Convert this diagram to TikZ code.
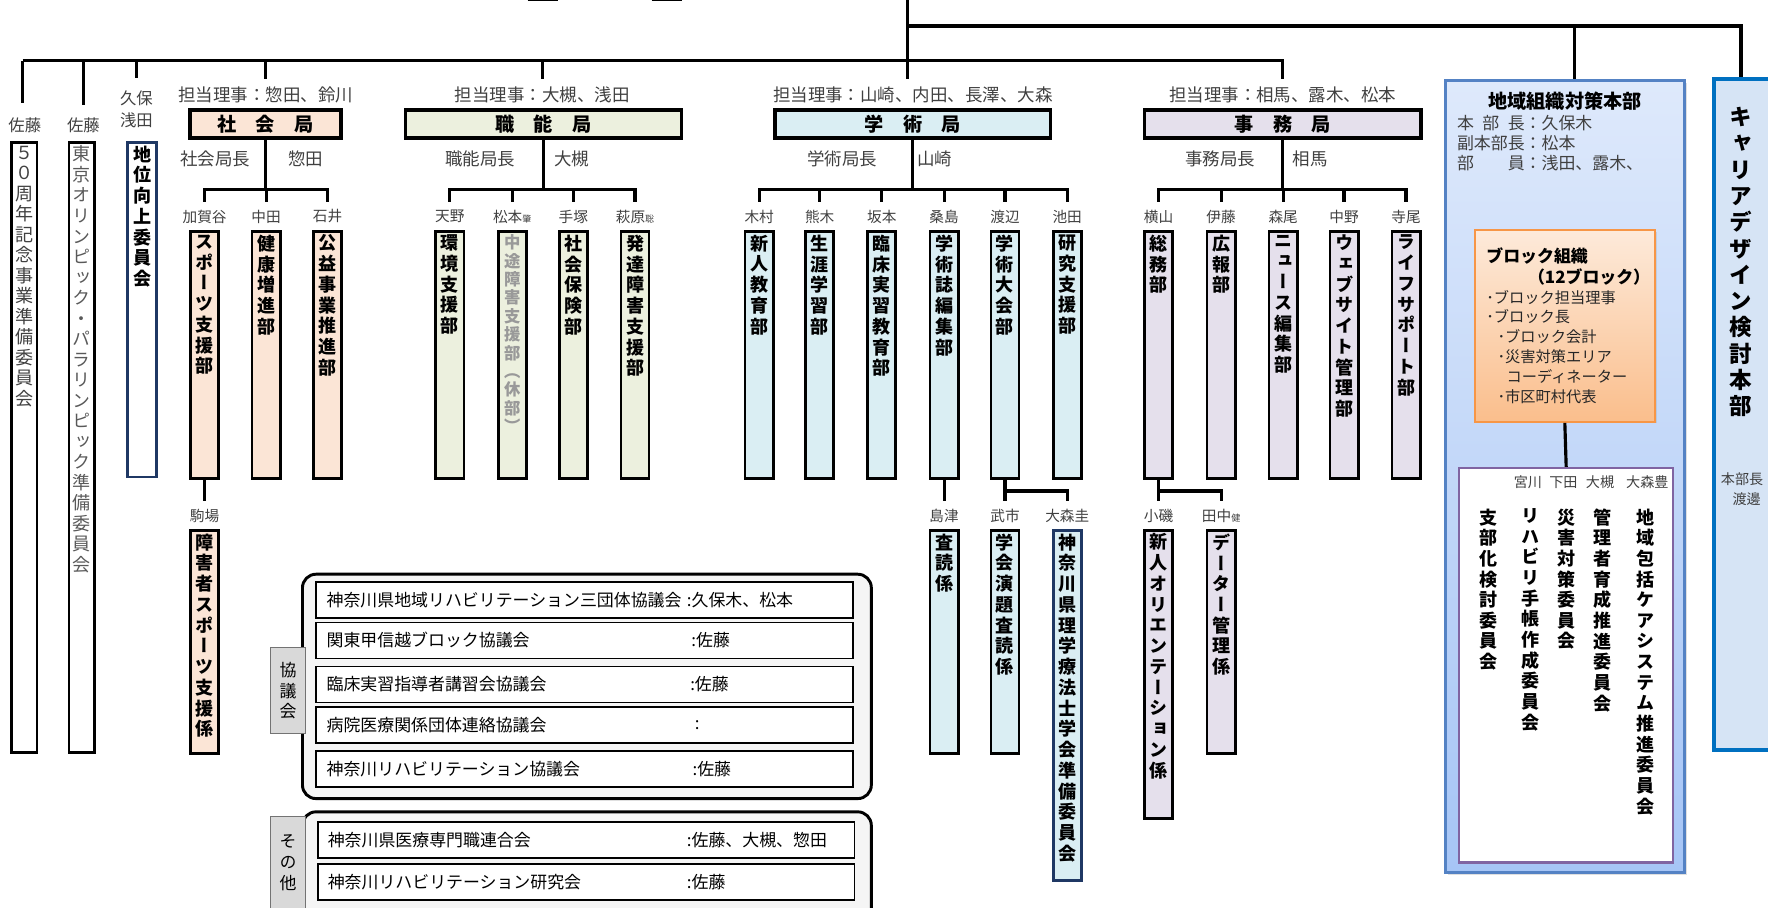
\documentclass[tikz,border=0pt]{standalone}
\usepackage{fontspec}
\setmainfont{Noto Sans CJK JP}
\newfontfamily\tatefont{Noto Sans CJK JP}[RawFeature=+vert]
\usetikzlibrary{positioning,shadows}

\definecolor{shakaiC}{RGB}{251,229,214}
\definecolor{shokunoC}{RGB}{236,240,222}
\definecolor{gakuC}{RGB}{218,238,243}
\definecolor{jimuC}{RGB}{229,224,236}
\definecolor{navyC}{RGB}{31,56,100}
\definecolor{txtC}{RGB}{64,64,64}
\definecolor{chiikiTop}{RGB}{222,233,251}
\definecolor{chiikiBot}{RGB}{166,197,246}
\definecolor{chiikiLine}{RGB}{84,130,196}
\definecolor{blockTop}{RGB}{253,234,218}
\definecolor{blockBot}{RGB}{250,190,140}
\definecolor{blockLine}{RGB}{247,150,70}
\definecolor{purpleC}{RGB}{128,100,162}
\definecolor{careerC}{RGB}{214,228,245}
\definecolor{careerLine}{RGB}{0,112,192}
\definecolor{labgray}{RGB}{217,217,217}

% stack the characters of a word one under the other
\makeatletter
\newcommand\vtxt[1]{\expandafter\vtxt@a#1\vtxt@end}
\def\vtxt@a#1{#1\vtxt@b}
\def\vtxt@b#1{\ifx#1\vtxt@end\else\\#1\expandafter\vtxt@b\fi}
\makeatother
\newcommand\smallname[1]{{\fontsize{8}{8}\selectfont #1}}

\begin{document}
\begin{tikzpicture}[x=1pt, y=-1pt,
	conn/.style={line width=2.8pt},
	hdr/.style={draw, line width=3.2pt, minimum height=25pt, inner sep=0pt, font=\bfseries\fontsize{17}{17}\selectfont},
	dept/.style={draw, line width=2.4pt, minimum width=25pt, anchor=north, inner sep=0pt},
	vlab/.style={anchor=north, align=center, inner sep=0pt, font=\tatefont\bfseries\fontsize{16}{18.4}\selectfont},
	vthin/.style={vlab, text=txtC, font=\tatefont\fontsize{16}{18.2}\selectfont},
	vgray/.style={vlab, text=black!40, font=\tatefont\bfseries\fontsize{14.5}{16.3}\selectfont},
	rep/.style={text=txtC, inner sep=1pt, outer ysep=6pt, font=\fontsize{15.5}{17}\selectfont},
	chief/.style={text=txtC, inner sep=1pt, font=\fontsize{15.5}{17}\selectfont},
	who/.style={text=txtC, inner sep=1pt, outer ysep=6pt, font=\fontsize{13}{15}\selectfont},
	grp/.style={draw, line width=2.6pt, rounded corners=12pt, fill=black!4},
	glab/.style={draw=black!55, line width=1pt, fill=labgray, minimum width=31pt, inner sep=0pt, align=center, font=\tatefont\fontsize{15}{18.5}\selectfont},
	row/.style={draw, line width=1.4pt, fill=white, minimum width=476pt, minimum height=32pt, anchor=west},
	rowtxt/.style={anchor=west, inner sep=0pt, font=\fontsize{15}{16}\selectfont}
]
	\useasboundingbox (0,0) rectangle (1568,805);

	% cut-off boxes at the top edge
	\draw[line width=1.3pt] (468,0.6) -- (495,0.6);
	\draw[line width=1.3pt] (578,0.6) -- (605,0.6);

	\coordinate (top) at (805,0);
	\coordinate (barL) at (20,54);
	\coordinate (barT) at (1544,23);
	\coordinate (chiiki-top) at (1396,23);

	% bureaus
	\node[rep] (shakai-rep) at (235.7,84) {担当理事：惣田、鈴川};
	\node[rep] (shokuno-rep) at (481,84) {担当理事：大槻、浅田};
	\node[rep] (gaku-rep) at (809.6,84) {担当理事：山崎、内田、長澤、大森};
	\node[rep] (jimu-rep) at (1137.6,84) {担当理事：相馬、露木、松本};

	\node[hdr, fill=shakaiC, minimum width=134pt] (shakai) at (235.5,110) {社　会　局};
	\node[hdr, fill=shokunoC, minimum width=245pt] (shokuno) at (482,110) {職　能　局};
	\node[hdr, fill=gakuC, minimum width=244pt] (gaku) at (809.5,110) {学　術　局};
	\node[hdr, fill=jimuC, minimum width=245pt] (jimu) at (1137.5,110) {事　務　局};

	\node[chief] (shakai-chief) at (191,141) {社会局長};
	\node[chief] (shakai-name) at (271,141) {惣田};
	\node[chief] (shokuno-chief) at (426,141) {職能局長};
	\node[chief] (shokuno-name) at (507,141) {大槻};
	\node[chief] (gaku-chief) at (747,141) {学術局長};
	\node[chief] (gaku-name) at (829,141) {山崎};
	\node[chief] (jimu-chief) at (1082,141) {事務局長};
	\node[chief] (jimu-name) at (1162,141) {相馬};

	\coordinate (shakai-j) at (shakai.south |- 0,168);
	\coordinate (shokuno-j) at (shokuno.south |- 0,168);
	\coordinate (gaku-j) at (gaku.south |- 0,168);
	\coordinate (jimu-j) at (jimu.south |- 0,168);
	\draw[conn] (shakai.south) -- (shakai-j);
	\draw[conn] (shokuno.south) -- (shokuno-j);
	\draw[conn] (gaku.south) -- (gaku-j);
	\draw[conn] (jimu.south) -- (jimu-j);

	% departments
	\foreach \nm/\x/\who/\txt in {sports/181.5/加賀谷/スポーツ支援部, kenko/236/中田/健康増進部, koeki/290.5/石井/公益事業推進部}{
		\node[who] (\nm-who) at (\x,192) {\who};
		\node[dept, fill=shakaiC, minimum height=218.8pt] (\nm) at (\x,204.1) {};
		\node[vlab] (\nm-txt) at ([yshift=-4pt]\nm.north) {\vtxt\txt};
		\draw[conn] (shakai-j) -| (\nm-who.north);
	}
	\foreach \nm/\x/\who/\txt/\tc in {kankyo/399/天野/環境支援部/vlab, chuto/454.3/松本\smallname{肇}/中途障害支援部（休部）/vgray, hoken/508.5/手塚/社会保険部/vlab, hattatsu/563.2/萩原\smallname{聡}/発達障害支援部/vlab}{
		\node[who] (\nm-who) at (\x,192) {\who};
		\node[dept, fill=shokunoC, minimum height=218.8pt] (\nm) at (\x,204.1) {};
		\node[\tc] (\nm-txt) at ([yshift=-4pt]\nm.north) {\vtxt\txt};
		\draw[conn] (shokuno-j) -| (\nm-who.north);
	}
	\foreach \nm/\x/\who/\txt in {shinjin/673.3/木村/新人教育部, shogai/727/熊木/生涯学習部, rinsho/782/坂本/臨床実習教育部, gakushi/837.3/桑島/学術誌編集部, taikai/891.3/渡辺/学術大会部, kenkyu/946.5/池田/研究支援部}{
		\node[who] (\nm-who) at (\x,192) {\who};
		\node[dept, fill=gakuC, minimum height=218.8pt] (\nm) at (\x,204.1) {};
		\node[vlab] (\nm-txt) at ([yshift=-4pt]\nm.north) {\vtxt\txt};
		\draw[conn] (gaku-j) -| (\nm-who.north);
	}
	\foreach \nm/\x/\who/\txt in {somu/1027.5/横山/総務部, koho/1083/伊藤/広報部, news/1138/森尾/ニュース編集部, web/1192/中野/ウェブサイト管理部, life/1247/寺尾/ライフサポート部}{
		\node[who] (\nm-who) at (\x,192) {\who};
		\node[dept, fill=jimuC, minimum height=218.8pt] (\nm) at (\x,204.1) {};
		\node[vlab] (\nm-txt) at ([yshift=-4pt]\nm.north) {\vtxt\txt};
		\draw[conn] (jimu-j) -| (\nm-who.north);
	}

	% sections under the departments
	\node[who] (komaba-who) at (181.5,457.6) {駒場};
	\node[dept, fill=shakaiC, minimum height=197.8pt] (komaba) at (181.5,469.1) {};
	\node[vlab] (komaba-txt) at ([yshift=-4pt]komaba.north) {\vtxt{障害者スポーツ支援係}};
	\draw[conn] (sports.south) -- (komaba-who.north);

	\node[who] (shimazu-who) at (837.3,457.6) {島津};
	\node[dept, fill=gakuC, minimum height=197.8pt] (shimazu) at (837.3,469.1) {};
	\node[vlab] (shimazu-txt) at ([yshift=-4pt]shimazu.north) {\vtxt{査読係}};
	\draw[conn] (gakushi.south) -- (shimazu-who.north);

	\node[who] (takeichi-who) at (891.3,457.6) {武市};
	\node[dept, fill=gakuC, minimum height=197.8pt] (takeichi) at (891.3,469.1) {};
	\node[vlab] (takeichi-txt) at ([yshift=-4pt]takeichi.north) {\vtxt{学会演題査読係}};
	\node[who] (omori-who) at (946.5,457.6) {大森圭};
	\node[dept, draw=navyC, fill=gakuC, minimum height=310.8pt] (omori) at (946.5,469.1) {};
	\node[vlab] (omori-txt) at ([yshift=-4pt]omori.north) {\vtxt{神奈川県理学療法士学会準備委員会}};
	\coordinate (taikai-j) at (taikai.south |- 0,435.5);
	\draw[conn] (taikai.south) -- (takeichi-who.north);
	\draw[conn] (taikai-j) -| (omori-who.north);

	\node[who] (koiso-who) at (1027.5,457.6) {小磯};
	\node[dept, fill=jimuC, minimum height=255.8pt] (koiso) at (1027.5,469.1) {};
	\node[vlab] (koiso-txt) at ([yshift=-4pt]koiso.north) {\vtxt{新人オリエンテーション係}};
	\node[who] (tanaka-who) at (1083,457.6) {田中\smallname{健}};
	\node[dept, fill=jimuC, minimum height=197.8pt] (tanaka) at (1083,469.1) {};
	\node[vlab] (tanaka-txt) at ([yshift=-4pt]tanaka.north) {\vtxt{データー管理係}};
	\coordinate (somu-j) at (somu.south |- 0,435.5);
	\draw[conn] (somu.south) -- (koiso-who.north);
	\draw[conn] (somu-j) -| (tanaka-who.north);

	% committees on the left
	\node[who, font=\fontsize{14.5}{16}\selectfont, outer ysep=12pt] (sato1) at (22,111) {佐藤};
	\node[who, font=\fontsize{14.5}{16}\selectfont, outer ysep=10pt] (sato2) at (74,111) {佐藤};
	\node[who, font=\fontsize{14.5}{20}\selectfont, align=center, outer ysep=10pt] (kubo) at (121,97) {久保\\浅田};
	\node[dept, minimum width=22.8pt, minimum height=541.3pt] (kinen) at (21.5,125.1) {};
	\node[vthin] (kinen-txt) at ([yshift=-4pt]kinen.north) {\vtxt{５０周年記念事業準備委員会}};
	\node[dept, minimum width=22.8pt, minimum height=541.3pt] (olympic) at (72.5,125.1) {};
	\node[vthin, text=black!65] (olympic-txt) at ([yshift=-4pt]olympic.north) {\vtxt{東京オリンピック・パラリンピック準備委員会}};
	\node[dept, draw=navyC, minimum width=25.8pt, minimum height=296.8pt] (chii) at (126,125.1) {};
	\node[vlab] (chii-txt) at ([yshift=-4pt]chii.north) {\vtxt{地位向上委員会}};

	% top lines
	\draw[conn] (top) -- (top |- gaku-rep.north);
	\draw[conn] (barL) -- (jimu-rep.north |- barL) -- (jimu-rep.north);
	\draw[conn] (barL) -- (barL |- sato1.north);
	\draw[conn] (sato2.north |- barL) -- (sato2.north);
	\draw[conn] (kubo.north |- barL) -- (kubo.north);
	\draw[conn] (shakai-rep.north |- barL) -- (shakai-rep.north);
	\draw[conn] (shokuno-rep.north |- barL) -- (shokuno-rep.north);

	% regional headquarters
	\node[draw=chiikiLine, line width=2.5pt, top color=chiikiTop, bottom color=chiikiBot, minimum width=211.5pt, minimum height=702.5pt, drop shadow={opacity=0.25, shadow xshift=2pt, shadow yshift=-2pt}] (chiiki) at (1388,422.5) {};
	\node[font=\bfseries\fontsize{17}{17}\selectfont] (chiiki-title) at (1388,90) {地域組織対策本部};
	\node[anchor=west, align=left, text=txtC, inner sep=0pt, font=\fontsize{15}{18}\selectfont] (chiiki-mem) at (1292,127) {本\hspace{.5em}部\hspace{.5em}長：久保木\\副本部長：松本\\部\hspace{2em}員：浅田、露木、};

	\node[draw=blockLine, line width=2pt, top color=blockTop, bottom color=blockBot, minimum width=159.6pt, minimum height=170pt, drop shadow={opacity=0.2, shadow xshift=1.5pt, shadow yshift=-1.5pt}] (block) at (1387.8,289) {};
	\node[anchor=west, inner sep=0pt, font=\bfseries\fontsize{15}{15}\selectfont] (block-title) at (1318,227) {ブロック組織};
	\node[anchor=west, inner sep=0pt, font=\bfseries\fontsize{15}{15}\selectfont] (block-count) at (1355,245.5) {（12ブロック）};
	\node[anchor=north west, align=left, inner sep=0pt, text=black!85, font=\fontsize{13.5}{17.6}\selectfont] (block-list) at (1318,257) {･ブロック担当理事\\･ブロック長\\\hspace*{10pt}･ブロック会計\\\hspace*{10pt}･災害対策エリア\\\hspace*{18pt}コーディネーター\\\hspace*{10pt}･市区町村代表};

	\node[draw=purpleC, line width=2.2pt, fill=white, minimum width=189.8pt, minimum height=349.8pt] (iinkai) at (1389,590) {};
	\draw[conn] (block.south) -- (iinkai.north);
	\foreach \nm/\x/\who in {miyakawa/1355/宮川, shimoda/1386.5/下田, otsuki/1419/大槻, omorit/1461/大森豊}{
		\node[who, font=\fontsize{12.5}{14}\selectfont] (\nm) at (\x,428) {\who};
	}
	\foreach \nm/\x/\txt in {chiikihokatsu/1459/地域包括ケアシステム推進委員会, kanrisha/1421/管理者育成推進委員会, saigai/1389/災害対策委員会, techo/1357.5/リハビリ手帳作成委員会, shibu/1320/支部化検討委員会}{
		\node[vlab, font=\tatefont\bfseries\fontsize{16}{18.3}\selectfont] (\nm) at (\x,451) {\vtxt\txt};
	}
	\draw[conn] (chiiki-top) -- (chiiki-top |- chiiki.north);

	% career design headquarters
	\node[draw=careerLine, line width=3.5pt, fill=careerC, minimum width=60pt, minimum height=595.5pt] (career) at (1549.75,367.5) {};
	\node[vlab, font=\tatefont\bfseries\fontsize{20}{23.3}\selectfont] (career-txt) at (1544,95) {\vtxt{キャリアデザイン検討本部}};
	\node[who, font=\fontsize{12.5}{14}\selectfont] (career-chief) at (1545,425) {本部長};
	\node[who, font=\fontsize{12.5}{14}\selectfont] (career-name) at (1549,443) {渡邊};
	\draw[conn] (top |- barT) -- (barT) -- (barT |- career.north);

	% councils
	\node[grp, minimum width=504.5pt, minimum height=199pt] (kyogi) at (520.5,608.75) {};
	\node[grp, minimum width=504.5pt, minimum height=100pt] (sonota) at (520.5,770) {};
	\node[glab, minimum height=76pt] (kyogi-lab) at (255.5,612.5) {\vtxt{協議会}};
	\node[glab, minimum height=82pt] (sonota-lab) at (255.5,765) {\vtxt{その他}};
	\foreach \i/\y/\org/\cx/\mem in {1/532/神奈川県地域リハビリテーション三団体協議会/609/久保木、松本, 2/568/関東甲信越ブロック協議会/613/佐藤, 3/607/臨床実習指導者講習会協議会/612/佐藤, 4/643/病院医療関係団体連絡協議会/616/, 5/682/神奈川リハビリテーション協議会/614/佐藤}{
		\node[row] (kyogi-\i) at (279.6,\y) {};
		\node[rowtxt] (kyogi-\i-org) at (289.5,\y) {\org};
		\node[rowtxt] (kyogi-\i-mem) at (\cx,\y) {:\mem};
	}
	\foreach \i/\y/\org/\cx/\mem in {1/745/神奈川県医療専門職連合会/609/佐藤、大槻、惣田, 2/782/神奈川リハビリテーション研究会/609/佐藤}{
		\node[row] (sonota-\i) at (281.3,\y) {};
		\node[rowtxt] (sonota-\i-org) at (290.5,\y) {\org};
		\node[rowtxt] (sonota-\i-mem) at (\cx,\y) {:\mem};
	}
\end{tikzpicture}
\end{document}
